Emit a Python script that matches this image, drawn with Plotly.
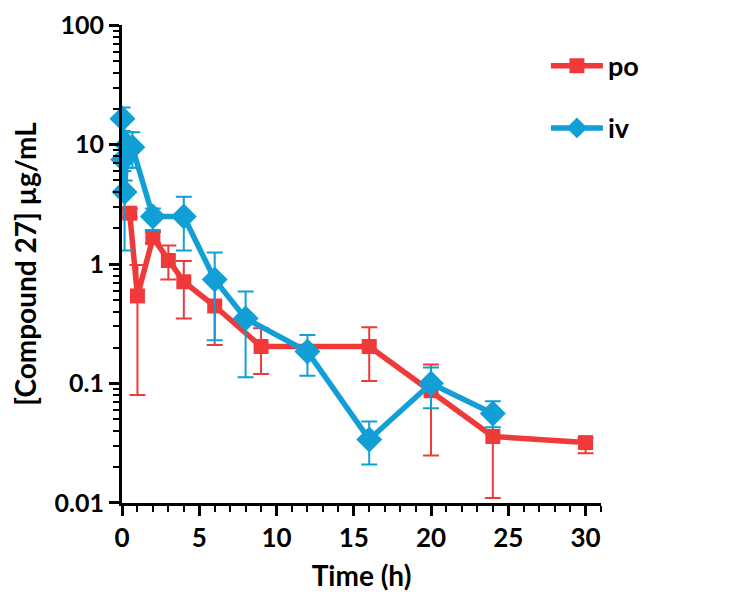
import plotly.graph_objects as go

# ---- data ----
po_time = [0.5, 1, 2, 3, 4, 6, 9, 16, 20, 24, 30]
po_conc = [2.66, 0.54, 1.66, 1.07, 0.71, 0.445, 0.204, 0.204, 0.087, 0.036, 0.032]
po_upper = [2.9, 0.98, 1.85, 1.43, 1.06, 0.68, 0.29, 0.296, 0.144, 0.06, 0.035]
po_lower = [2.45, 0.08, 1.5, 0.74, 0.35, 0.21, 0.12, 0.105, 0.025, 0.011, 0.026]

iv_time = [0.033, 0.083, 0.167, 0.33, 0.67, 2, 4, 6, 8, 12, 16, 20, 24]
iv_conc = [16.4, 7.5, 4.0, 9.9, 9.5, 2.5, 2.5, 0.74, 0.35, 0.185, 0.034, 0.1, 0.056]
iv_upper = [20.4, 9.0, 5.0, 12.7, 12.7, 2.92, 3.66, 1.25, 0.59, 0.254, 0.048, 0.136, 0.071]
iv_lower = [13.0, 6.0, 1.3, 6.4, 6.4, 1.93, 1.3, 0.23, 0.113, 0.116, 0.021, 0.062, 0.043]

y_tick_vals = [0.01, 0.1, 1, 10, 100]
y_tick_text = ["0.01", "0.1", "1", "10", "100"]

RED = "#F03A3A"
BLUE = "#129FD6"
FONT = "Lato"


def err(vals, up, lo):
    return ([u - v for u, v in zip(up, vals)], [v - l for v, l in zip(vals, lo)])


po_ep, po_em = err(po_conc, po_upper, po_lower)
iv_ep, iv_em = err(iv_conc, iv_upper, iv_lower)

fig = go.Figure()
fig.add_trace(go.Scatter(
    x=po_time, y=po_conc, name="po", mode="lines+markers",
    line=dict(color=RED, width=5.5),
    marker=dict(symbol="square", size=15, color=RED),
    error_y=dict(type="data", array=po_ep, arrayminus=po_em, symmetric=False,
                 color=RED, thickness=2, width=8),
    cliponaxis=False, legendgroup="po",
))
fig.add_trace(go.Scatter(
    x=iv_time, y=iv_conc, name="iv", mode="lines+markers",
    line=dict(color=BLUE, width=5.5),
    marker=dict(symbol="diamond", size=20, color=BLUE),
    error_y=dict(type="data", array=iv_ep, arrayminus=iv_em, symmetric=False,
                 color=BLUE, thickness=2, width=8),
    cliponaxis=False, legendgroup="iv",
))

fig.update_layout(
    width=729, height=606,
    margin=dict(l=114, r=136, t=17, b=111),
    paper_bgcolor="white", plot_bgcolor="white",
    font=dict(family=FONT, size=24, color="black", weight=700),
    showlegend=True,
    legend=dict(x=0.885, y=0.965, xanchor="left", yanchor="top",
                font=dict(family=FONT, size=27, color="black", weight=700),
                itemwidth=52, tracegroupgap=24, traceorder="grouped",
                bgcolor="rgba(0,0,0,0)"),
)

fig.update_xaxes(
    range=[0, 31], dtick=5, tick0=0,
    showline=True, linecolor="black", linewidth=3,
    ticks="outside", ticklen=10, tickwidth=3, tickcolor="black",
    minor=dict(dtick=1, ticks="outside", ticklen=6, tickwidth=2, tickcolor="black"),
    showgrid=False, zeroline=False, automargin=False,
    tickfont=dict(family=FONT, size=26, color="black", weight=700),
    title=dict(text="Time (h)", font=dict(family=FONT, size=28, color="black", weight=700)),
)
fig.update_yaxes(
    type="log", range=[-2.0005, 2.0005],
    showline=True, linecolor="black", linewidth=3,
    ticks="outside", ticklen=10, tickwidth=3, tickcolor="black",
    minor=dict(dtick="D1", ticks="outside", ticklen=6, tickwidth=2, tickcolor="black"),
    showgrid=False, zeroline=False, automargin=False,
    tickvals=y_tick_vals, ticktext=y_tick_text,
    ticklabeloverflow="allow",
    tickfont=dict(family=FONT, size=25, color="black", weight=700),
    title=dict(text="[Compound 27] µg/mL", font=dict(family=FONT, size=28, color="black", weight=700)),
)

fig.write_html("out.html")
